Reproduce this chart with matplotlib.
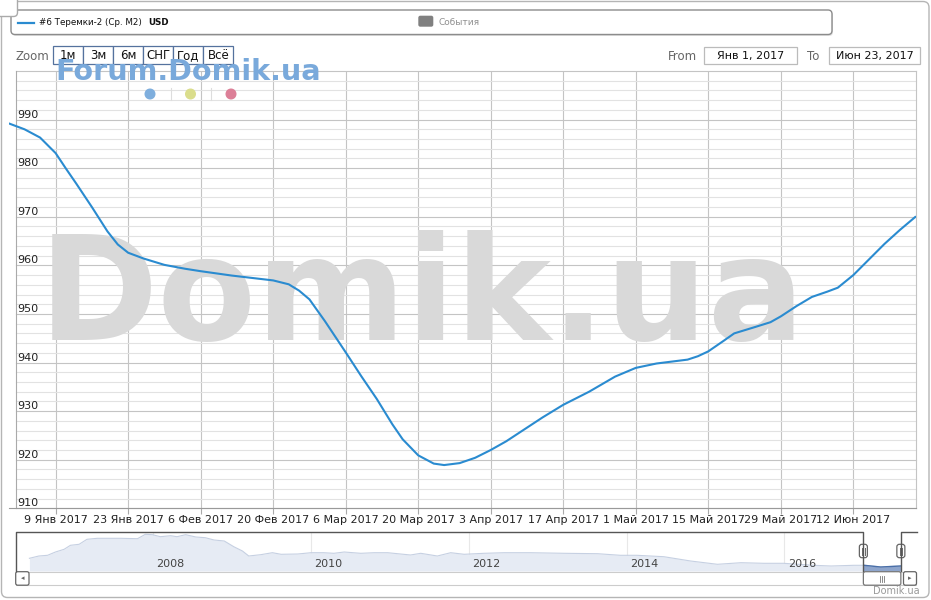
import numpy as np
import pandas as pd
import matplotlib
matplotlib.use("Agg")
import matplotlib.pyplot as plt
from matplotlib.patches import FancyBboxPatch, Rectangle, Circle

# main series: average price per m2 (USD), day offsets from 31 Dec 2016
start_date = pd.Timestamp("2016-12-31")
days = [0, 3, 6, 9, 11, 13, 16, 19, 21, 23, 26, 30, 34, 37, 43, 47, 51, 54, 56, 58,
        61, 65, 68, 71, 74, 76, 79, 82, 84, 87, 90, 93, 96, 99, 103, 107, 112, 117, 121, 125,
        128, 131, 133, 135, 138, 140, 144, 147, 149, 152, 155, 158, 160, 163, 166, 169, 172, 175]
values = [989.2, 988.0, 986.3, 983.1, 979.9, 976.8, 972.0, 967.0, 964.3, 962.6,
          961.4, 960.1, 959.3, 958.8, 957.9, 957.4, 956.9, 956.1, 954.8, 953.0,
          948.5, 942.1, 937.2, 932.5, 927.3, 924.2, 920.9, 919.2, 918.9, 919.3,
          920.4, 922.0, 923.8, 925.9, 928.7, 931.3, 934.0, 937.1, 938.9, 939.8,
          940.2, 940.6, 941.3, 942.3, 944.5, 946.0, 947.3, 948.3, 949.5, 951.6,
          953.5, 954.6, 955.4, 958.0, 961.2, 964.4, 967.3, 970.0]

tick_dates = ["2017-01-09", "2017-01-23", "2017-02-06", "2017-02-20", "2017-03-06", "2017-03-20",
              "2017-04-03", "2017-04-17", "2017-05-01", "2017-05-15", "2017-05-29", "2017-06-12"]
tick_labels = ["9 Янв 2017", "23 Янв 2017", "6 Фев 2017", "20 Фев 2017", "6 Мар 2017", "20 Мар 2017",
               "3 Апр 2017", "17 Апр 2017", "1 Май 2017", "15 Май 2017", "29 Май 2017", "12 Июн 2017"]
y_labels = [910, 920, 930, 940, 950, 960, 970, 980, 990]

# navigator series (whole history)
nav_years = [2006.43, 2006.55, 2006.66, 2006.76, 2006.87, 2006.95, 2007.06, 2007.16, 2007.29, 2007.42,
             2007.59, 2007.80, 2007.90, 2007.99, 2008.09, 2008.22, 2008.30, 2008.41, 2008.54, 2008.66,
             2008.77, 2008.90, 2009.02, 2009.13, 2009.21, 2009.36, 2009.51, 2009.62, 2009.83, 2010.00,
             2010.16, 2010.29, 2010.42, 2010.63, 2010.80, 2010.97, 2011.26, 2011.39, 2011.60, 2011.77,
             2011.94, 2012.19, 2012.45, 2012.78, 2013.21, 2013.63, 2013.92, 2014.13, 2014.47, 2014.81,
             2015.15, 2015.45, 2015.74, 2015.99, 2016.37, 2016.59, 2016.88, 2017.01, 2017.22, 2017.47]
nav_values = [1347, 1466, 1502, 1672, 1812, 2018, 2070, 2328, 2379, 2379,
              2379, 2359, 2586, 2565, 2462, 2513, 2462, 2565, 2446, 2410,
              2292, 2240, 1946, 1724, 1466, 1533, 1636, 1554, 1569, 1636,
              1636, 1605, 1672, 1605, 1636, 1636, 1518, 1605, 1466, 1636,
              1554, 1605, 1636, 1636, 1605, 1585, 1502, 1502, 1430, 1208,
              1038, 1120, 1089, 1089, 986, 950, 986, 986, 898, 950]
nav_year_labels = [2008, 2010, 2012, 2014, 2016]
sel_start, sel_end = 2017.0, 2017.475

zoom_buttons = ["1м", "3м", "6м", "СНГ", "Год", "Всё"]

W, H = 931, 600
LINE = "#2a8bd0"

dates = start_date + pd.to_timedelta(days, unit="D")

fig = plt.figure(figsize=(W / 100, H / 100), dpi=100)
fig.patch.set_facecolor("white")


def box(px0, py0, px1, py1):
    return [px0 / W, 1 - py1 / H, (px1 - px0) / W, (py1 - py0) / H]


# ---- main chart ----
ax = fig.add_axes(box(9, 71, 915.5, 508.3))
ax.set_xlim(dates[0], dates[-1])
ax.set_ylim(910, 1000)
ax.set_yticks([])
ax.set_xticks(pd.to_datetime(tick_dates))
ax.set_xticklabels(tick_labels)
ax.tick_params(axis="x", length=4, pad=1, color="#aaaaaa", labelsize=8, labelcolor="#222222")
ax.grid(axis="x", color="#c4c4c4", lw=0.8)
ax.set_axisbelow(True)

left_off = 6.5 / 906.5
for v in np.arange(910, 1001, 2):
    major = v % 10 == 0
    ax.axhline(v, xmin=left_off, xmax=1, color="#c4c4c4" if major else "#e2e2e2",
               lw=0.8, zorder=1, clip_on=False)
for v in y_labels:
    ax.text(0.0088, v + 0.4, str(v), transform=ax.get_yaxis_transform(),
            ha="left", va="baseline", fontsize=8, color="#222222", zorder=3)

ax.spines["top"].set_visible(False)
ax.spines["left"].set_position(("axes", left_off))
ax.spines["left"].set_color("#aaaaaa")
ax.spines["right"].set_color("#c4c4c4")
ax.spines["bottom"].set_color("#999999")
for s in ax.spines.values():
    s.set_linewidth(0.8)

# background watermark
ax.text(0.4553, 0.385, "Domik.ua", transform=ax.transAxes, ha="center", va="baseline",
        fontsize=103.5, fontweight="bold", color="#d9d9d9", zorder=2)
ax.plot(dates, values, color=LINE, lw=1.5, zorder=4, solid_capstyle="round")

# ---- navigator ----
nav_x0, nav_x1 = 2006.26, 2017.667
nav_left, nav_right, nav_top, nav_bot = 16, 916, 531.7, 571
nav = fig.add_axes(box(nav_left, nav_top, nav_right, nav_bot))
nav.set_xlim(nav_x0, nav_x1)
nav.set_ylim(692, 2720)
nav.axis("off")
for yr in nav_year_labels:
    nav.axvline(yr, color="#e8e8e8", lw=0.8, zorder=0)
    nav.text(yr + 0.04, 0.11, str(yr), transform=nav.get_xaxis_transform(),
             fontsize=8, color="#444444", va="baseline", ha="left")
nav.fill_between(nav_years, nav_values, 692, color="#e6ebf4", lw=0, zorder=1)
nav.plot(nav_years, nav_values, color="#c6d0e2", lw=0.8, zorder=2)
clip = Rectangle((sel_start, 692), sel_end - sel_start, 3000, transform=nav.transData)
f2 = nav.fill_between(nav_years, nav_values, 692, color="#8ea5cc", lw=0, zorder=3)
f2.set_clip_path(clip)
l2, = nav.plot(nav_years, nav_values, color="#4a6fa8", lw=1, zorder=4)
l2.set_clip_path(clip)


def nav_px(yr):
    return nav_left + (yr - nav_x0) / (nav_x1 - nav_x0) * (nav_right - nav_left)


# ---- overlay for the page chrome ----
ov = fig.add_axes([0, 0, 1, 1], zorder=5)
ov.set_xlim(0, W)
ov.set_ylim(H, 0)
ov.axis("off")
ov.patch.set_alpha(0)

# outer frame
ov.add_patch(FancyBboxPatch((1.5, 1.5), 927.5, 596, boxstyle="round,pad=0,rounding_size=6",
                            fc="none", ec="#b5b5b5", lw=1))

# legend
ov.add_patch(FancyBboxPatch((12, 11.5), 821, 24.5, boxstyle="round,pad=0,rounding_size=4",
                            fc="#000000", ec="none", alpha=0.12))
ov.add_patch(FancyBboxPatch((11, 10), 821, 24.5, boxstyle="round,pad=0,rounding_size=4",
                            fc="white", ec="#8c8c8c", lw=1))
ov.plot([18, 34], [22.5, 22.5], color=LINE, lw=1.6)
ov.text(39, 22.8, "#6 Теремки-2 (Ср. М2)", fontsize=6.3, va="center", ha="left", color="#111111")
ov.text(148, 22.8, "USD", fontsize=6.3, fontweight="bold", va="center", ha="left", color="#111111")
ov.add_patch(FancyBboxPatch((418.3, 15.7), 15, 11, boxstyle="round,pad=0,rounding_size=2",
                            fc="#808080", ec="none"))
ov.text(438.5, 22.5, "События", fontsize=6.5, va="center", ha="left", color="#909090")

# small corner button on top of the legend
ov.add_patch(FancyBboxPatch((-6, -6), 23.5, 22.5, boxstyle="round,pad=0,rounding_size=4",
                            fc="white", ec="#aaaaaa", lw=1))

# zoom row
ov.text(15, 56, "Zoom", fontsize=8.5, color="#666666", va="center", ha="left")
for i, lab in enumerate(zoom_buttons):
    x0 = 53.3 + i * 30
    ov.add_patch(Rectangle((x0, 46), 30, 18, fc="white", ec="#55729e", lw=0.9))
    ov.text(x0 + 15, 55.5, lab, fontsize=8.5, color="#111111", ha="center", va="center")
ov.text(668, 56, "From", fontsize=8.5, color="#666666", va="center", ha="left")
ov.add_patch(Rectangle((704, 46.7), 93, 17.5, fc="white", ec="#bbbbbb", lw=0.9))
ov.text(750.5, 55.7, "Янв 1, 2017", fontsize=8, color="#111111", ha="center", va="center")
ov.text(807, 56, "To", fontsize=8.5, color="#666666", va="center", ha="left")
ov.add_patch(Rectangle((829, 46.7), 90.5, 17.5, fc="white", ec="#bbbbbb", lw=0.9))
ov.text(874.5, 55.7, "Июн 23, 2017", fontsize=8, color="#111111", ha="center", va="center")

# forum watermark + dots
ov.text(55, 80, "Forum.Domik.ua", fontsize=20.6, fontweight="bold", color="#79a9db",
        ha="left", va="baseline")
for cx, col in [(150, "#7eaedd"), (190.5, "#dadd8c"), (231, "#dc7f97")]:
    ov.add_patch(Circle((cx, 94), 4.8, color=col))
for sx in [170.5, 210.5]:
    ov.plot([sx, sx], [88, 100], color="#dddddd", lw=0.8)

# navigator outline and handles
p1, p2 = nav_px(sel_start), nav_px(sel_end)
ov.plot([nav_left, nav_left, p1, p1], [nav_bot, nav_top, nav_top, nav_bot], color="#555555", lw=1)
ov.plot([p2, p2, nav_right + 1], [nav_bot, nav_top, nav_top], color="#555555", lw=1)
for hx in [p1, p2]:
    ov.add_patch(FancyBboxPatch((hx - 4, 544.3), 8, 13.4, boxstyle="round,pad=0,rounding_size=2.5",
                                fc="white", ec="#666666", lw=0.9))
    for dx in [-1.2, 1.2]:
        ov.plot([hx + dx, hx + dx], [547.5, 554.5], color="#666666", lw=0.7)

# scrollbar
ov.add_patch(Rectangle((nav_left, 571.5), nav_right - nav_left, 13.5, fc="white", ec="#cccccc", lw=0.8))
ov.add_patch(FancyBboxPatch((15.7, 571.7), 13.3, 13.5, boxstyle="round,pad=0,rounding_size=2",
                            fc="white", ec="#666666", lw=0.9))
ov.text(22.3, 578.5, "◂", fontsize=5, color="#666666", ha="center", va="center")
ov.add_patch(FancyBboxPatch((903.5, 571.7), 13, 13.5, boxstyle="round,pad=0,rounding_size=2",
                            fc="white", ec="#666666", lw=0.9))
ov.text(910, 578.5, "▸", fontsize=5, color="#666666", ha="center", va="center")
ov.add_patch(FancyBboxPatch((p1, 571.7), p2 - p1, 13.5, boxstyle="round,pad=0,rounding_size=2",
                            fc="white", ec="#777777", lw=0.9))
mid = (p1 + p2) / 2
for dx in [-2, 0, 2]:
    ov.plot([mid + dx, mid + dx], [575.5, 581.5], color="#777777", lw=0.6)

ov.text(920, 591, "Domik.ua", fontsize=7, color="#999999", ha="right", va="center")

fig.savefig("out.png", dpi=100)
